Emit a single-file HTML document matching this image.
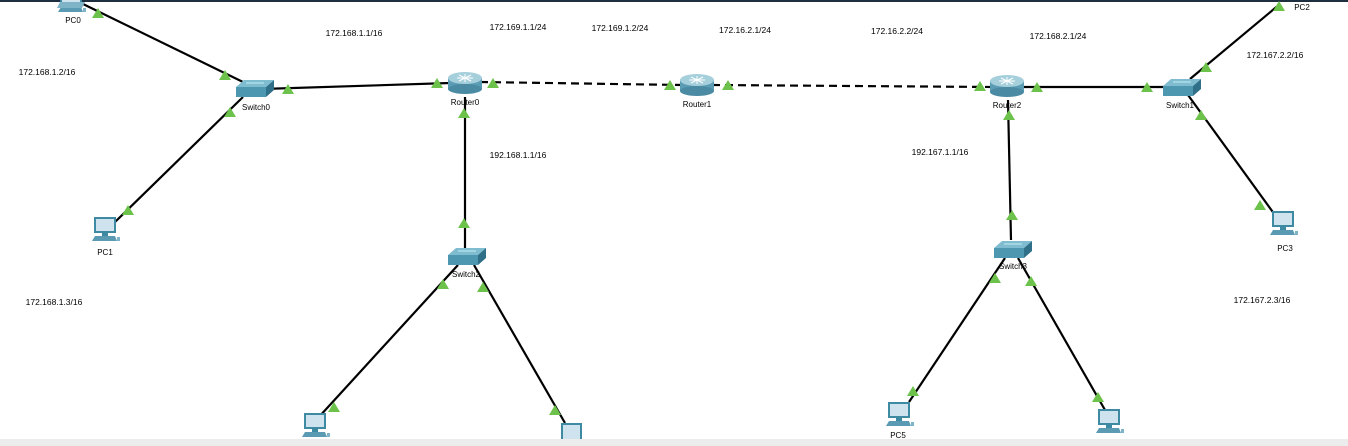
<!DOCTYPE html>
<html><head><meta charset="utf-8"><style>
html,body{margin:0;padding:0;background:#fff;}
svg{display:block;font-family:"Liberation Sans",sans-serif;}
.l{font-size:8px;fill:#000;}
.ip{font-size:8.5px;fill:#000;}
</style></head><body>
<svg width="1348" height="446" viewBox="0 0 1348 446">
<defs>
<symbol id="pc" viewBox="0 0 28 26" width="28" height="26" overflow="visible">
<rect x="2" y="0" width="22" height="16" fill="#3f8aa3"/>
<rect x="4" y="2" width="18" height="12" fill="#cfe3ee"/>
<rect x="10" y="16" width="6" height="3" fill="#3f8aa3"/>
<polygon points="3,19 23,19 25,24 0,24" fill="#5a9bb3"/>
<rect x="25" y="20" width="3" height="4" fill="#7fb4c8"/>
</symbol>
<symbol id="sw" viewBox="0 0 38 18" width="38" height="18" overflow="visible">
<polygon points="0,7 8,0 38,0 30,7" fill="#7fbcd0"/>
<rect x="0" y="7" width="30" height="10" fill="#4e97b0"/>
<polygon points="30,7 38,0 38,10 30,17" fill="#2f7088"/>
<line x1="10" y1="3" x2="28" y2="3" stroke="#dff" stroke-width="0.8"/>
</symbol>
<symbol id="rt" viewBox="0 0 34 24" width="34" height="24" overflow="visible">
<rect x="0" y="7" width="34" height="11" fill="#5b9cb5"/>
<ellipse cx="17" cy="18" rx="17" ry="5" fill="#4a8aa3"/>
<ellipse cx="17" cy="7" rx="17" ry="6" fill="#a6cfdc"/>
<path d="M9 7 L25 7 M17 3 L17 11 M11 4 L23 10 M23 4 L11 10" stroke="#fff" stroke-width="1"/>
</symbol>
<symbol id="ar" viewBox="0 0 12 10" width="12" height="10" overflow="visible">
<polygon points="6,0 12,10 0,10" fill="#6cc24a"/>
</symbol>
</defs>
<rect x="0" y="0" width="1348" height="2" fill="#1e2f40"/>
<g stroke="#000" stroke-width="2.2" fill="none">
<line x1="83" y1="4" x2="243" y2="82"/>
<line x1="262" y1="89" x2="450" y2="83"/>
<line x1="480" y1="82" x2="683" y2="85" stroke-dasharray="8,5"/>
<line x1="712" y1="85" x2="993" y2="87" stroke-dasharray="8,5"/>
<line x1="1022" y1="87" x2="1165" y2="87"/>
<line x1="1190" y1="79" x2="1280" y2="4"/>
<line x1="1188" y1="95" x2="1275" y2="215"/>
<line x1="243" y1="97" x2="115" y2="222"/>
<line x1="465" y1="97" x2="465" y2="250"/>
<line x1="458" y1="265" x2="318" y2="418"/>
<line x1="474" y1="265" x2="565" y2="423"/>
<line x1="1008" y1="100" x2="1011" y2="240"/>
<line x1="1005" y1="258" x2="909" y2="402"/>
<line x1="1018" y1="258" x2="1105" y2="410"/>
</g>
<g>
<use href="#ar" x="92" y="8"/><use href="#ar" x="219" y="70"/>
<use href="#ar" x="282" y="84"/><use href="#ar" x="431" y="78"/>
<use href="#ar" x="487" y="78"/><use href="#ar" x="664" y="80"/>
<use href="#ar" x="722" y="80"/><use href="#ar" x="974" y="81"/>
<use href="#ar" x="1031" y="82"/><use href="#ar" x="1141" y="82"/>
<use href="#ar" x="1200" y="62"/><use href="#ar" x="1273" y="1"/>
<use href="#ar" x="1195" y="110"/><use href="#ar" x="1254" y="200"/>
<use href="#ar" x="224" y="107"/><use href="#ar" x="122" y="205"/>
<use href="#ar" x="458" y="108"/><use href="#ar" x="458" y="218"/>
<use href="#ar" x="437" y="279"/><use href="#ar" x="328" y="402"/>
<use href="#ar" x="477" y="282"/><use href="#ar" x="549" y="405"/>
<use href="#ar" x="1003" y="110"/><use href="#ar" x="1006" y="210"/>
<use href="#ar" x="989" y="273"/><use href="#ar" x="907" y="386"/>
<use href="#ar" x="1025" y="276"/><use href="#ar" x="1092" y="392"/>
</g>
<use href="#pc" x="58" y="-12"/>
<polygon points="60,2 85,2 82,8 57,8" fill="#7fb4c8"/>
<use href="#pc" x="92" y="217"/>
<use href="#pc" x="1270" y="211"/>
<use href="#pc" x="302" y="413"/>
<rect x="561" y="423" width="21" height="18" fill="#3f8aa3"/><rect x="563" y="425" width="17" height="14" fill="#cfe3ee"/>
<use href="#pc" x="886" y="402"/>
<use href="#pc" x="1096" y="409"/>
<use href="#sw" x="236" y="80"/>
<use href="#sw" x="1163" y="79"/>
<use href="#sw" x="448" y="248"/>
<use href="#sw" x="994" y="241"/>
<use href="#rt" x="448" y="71"/>
<use href="#rt" x="680" y="73"/>
<use href="#rt" x="990" y="74"/>
<g class="l" text-anchor="middle">
<text x="73" y="23">PC0</text>
<text x="105" y="255">PC1</text>
<text x="1302" y="10">PC2</text>
<text x="1285" y="251">PC3</text>
<text x="898" y="438">PC5</text>
<text x="256" y="110">Switch0</text>
<text x="1180" y="108">Switch1</text>
<text x="466" y="277">Switch2</text>
<text x="1013" y="269">Switch3</text>
<text x="465" y="105">Router0</text>
<text x="697" y="107">Router1</text>
<text x="1007" y="108">Router2</text>
</g>
<g class="ip" text-anchor="middle">
<text x="354" y="36">172.168.1.1/16</text>
<text x="518" y="30">172.169.1.1/24</text>
<text x="620" y="31">172.169.1.2/24</text>
<text x="745" y="33">172.16.2.1/24</text>
<text x="897" y="34">172.16.2.2/24</text>
<text x="1058" y="39">172.168.2.1/24</text>
<text x="47" y="75">172.168.1.2/16</text>
<text x="518" y="158">192.168.1.1/16</text>
<text x="940" y="155">192.167.1.1/16</text>
<text x="1275" y="58">172.167.2.2/16</text>
<text x="54" y="305">172.168.1.3/16</text>
<text x="1262" y="303">172.167.2.3/16</text>
</g>
<rect x="0" y="439" width="1348" height="7" fill="#ececec"/>
</svg>
</body></html>
